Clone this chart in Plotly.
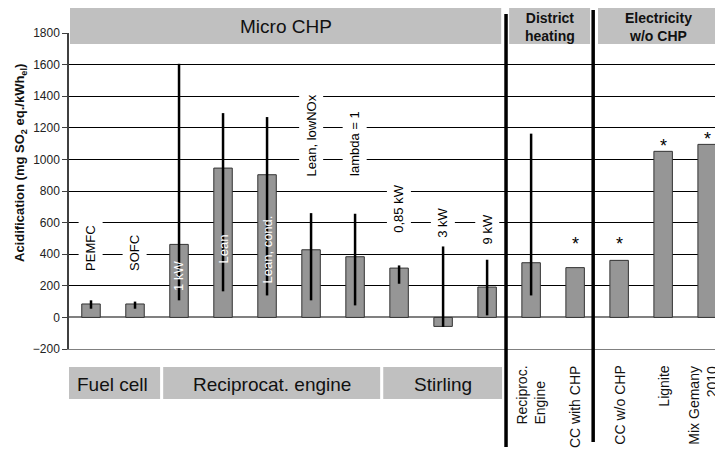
import plotly.graph_objects as go

# ---- data ----
categories = ["PEMFC", "SOFC", "1 kW", "Lean", "Lean, cond.", "Lean, lowNOx", "lambda = 1",
              "0,85 kW", "3 kW", "9 kW", "Reciproc. Engine", "CC with CHP",
              "CC w/o CHP", "Lignite", "Mix Gemany 2010"]
values = [85, 85, 462, 945, 903, 428, 384, 312, -57, 192, 346, 315, 361, 1051, 1095]
err_high = [108, 100, 1605, 1293, 1268, 660, 656, 329, 449, 365, 1163, None, None, None, None]
err_low = [55, 55, 108, 165, 139, 108, 76, 213, -60, 13, 139, None, None, None, None]
asterisk = [False, False, False, False, False, False, False, False, False, False, False,
            True, True, True, True]
y_ticks = [-200, 0, 200, 400, 600, 800, 1000, 1200, 1400, 1600, 1800]

top_groups = ["Micro CHP", "District<br>heating", "Electricity<br>w/o CHP"]
bottom_groups = ["Fuel cell", "Reciprocat. engine", "Stirling"]

FONT = "Arial, Liberation Sans, sans-serif"
x = list(range(len(categories)))

plus = [(h - v) if h is not None else None for h, v in zip(err_high, values)]
minus = [(v - l) if l is not None else None for l, v in zip(err_low, values)]

fig = go.Figure()
fig.add_trace(go.Bar(
    x=x, y=values, width=0.42,
    marker=dict(color="#969696", line=dict(color="#333333", width=1)),
    error_y=dict(type="data", symmetric=False, array=plus, arrayminus=minus,
                 color="black", thickness=2.5, width=0),
    showlegend=False, hoverinfo="skip",
))

OFF = 8  # page body margin
W, H = 723 - OFF, 454 - OFF
L, R, T = 69 - OFF, 0, 33 - OFF
B = H - (349 - OFF)
ph = H - T - B


def py(pix):
    """screenshot pixel y -> paper y"""
    return (H - B - (pix - OFF)) / ph


shapes = []
annotations = []

# top group bands
top_spans = [(-0.477, 9.32), (9.5, 11.34), (11.52, 14.5)]
for (a, b) in top_spans:
    shapes.append(dict(type="rect", xref="x", yref="paper", x0=a, x1=b, y0=py(44), y1=py(8),
                       fillcolor="#C0C0C0", line=dict(width=0), layer="above"))
annotations.append(dict(xref="x", yref="paper", x=(top_spans[0][0] + top_spans[0][1]) / 2, y=py(27),
                        yanchor="middle", text=top_groups[0], showarrow=False,
                        font=dict(family=FONT, size=19, color="#111")))
annotations.append(dict(xref="x", yref="paper", x=(top_spans[1][0] + top_spans[1][1]) / 2, y=py(27),
                        yanchor="middle", text="<b>" + top_groups[1] + "</b>", showarrow=False,
                        font=dict(family=FONT, size=14, color="#111")))
annotations.append(dict(xref="x", yref="paper", x=12.9, y=py(27), yanchor="middle",
                        text="<b>" + top_groups[2] + "</b>", showarrow=False,
                        font=dict(family=FONT, size=14, color="#111")))

# bottom group bands
bottom_spans = [(-0.61, 1.57), (1.64, 6.57), (6.64, 9.34)]
for (a, b), name in zip(bottom_spans, bottom_groups):
    shapes.append(dict(type="rect", xref="x", yref="paper", x0=a, x1=b, y0=py(399), y1=py(367),
                       fillcolor="#C0C0C0", line=dict(width=0), layer="above"))
    annotations.append(dict(xref="x", yref="paper", x=(a + b) / 2, y=py(384), yanchor="middle",
                            text=name, showarrow=False,
                            font=dict(family=FONT, size=19, color="#111")))

# separator lines
for xs, y0, y1 in [(9.43, 447, 14), (11.41, 442, 10)]:
    shapes.append(dict(type="line", xref="x", yref="paper", x0=xs, x1=xs, y0=py(y0), y1=py(y1),
                       line=dict(color="black", width=3.5), layer="above"))

# in-plot labels
label_specs = [
    (0, 288, "bottom", "black", True),
    (1, 288, "bottom", "black", True),
    (2, 263, "middle", "white", False),
    (3, 430, "middle", "white", False),
    (4, 430, "middle", "white", False),
    (5, 886, "bottom", "black", True),
    (6, 886, "bottom", "black", True),
    (7, 530, "bottom", "black", True),
    (8, 498, "bottom", "black", True),
    (9, 456, "bottom", "black", True),
]
for i, yv, anch, col, bg in label_specs:
    ann = dict(xref="x", yref="y", x=i, y=yv, yanchor=anch, text=categories[i],
               textangle=-90, showarrow=False, borderpad=4 if bg else 0,
               yshift=-4 if bg and anch == "bottom" else 0,
               font=dict(family=FONT, size=13, color=col))
    if bg:
        ann["bgcolor"] = "white"
    annotations.append(ann)

# bottom rotated labels
bottom_labels = {10: ("Reciproc.<br>Engine", "left", -1), 11: ("CC with CHP", "left", 0),
                 12: ("CC w/o CHP", "left", 0), 13: ("Lignite", "left", 0),
                 14: ("Mix Gemany<br>2010", "right", -5)}
for i, (txt, al, xs) in bottom_labels.items():
    annotations.append(dict(xref="x", yref="paper", x=i, y=py(364), yanchor="top", xshift=xs,
                            text=txt, align=al, textangle=-90, showarrow=False,
                            font=dict(family=FONT, size=14, color="#111")))

# asterisks
ast_y = {11: 487, 12: 487, 13: 1110, 14: 1152}
for i, flag in enumerate(asterisk):
    if flag:
        annotations.append(dict(xref="x", yref="y", x=i, y=ast_y[i], yanchor="middle", yshift=-4,
                                text="*", showarrow=False,
                                font=dict(family=FONT, size=18, color="black")))

# y-axis title
annotations.append(dict(xref="paper", yref="paper", x=-(L - (20 - OFF)) / (W - L - R), y=py(163),
                        xanchor="center", yanchor="middle", textangle=-90, showarrow=False,
                        text="<b>Acidification (mg SO<sub>2</sub> eq./kWh<sub>el</sub>)</b>",
                        font=dict(family=FONT, size=13, color="#111")))

fig.update_layout(
    width=W, height=H,
    margin=dict(l=L, r=R, t=T, b=B, pad=0, autoexpand=False),
    plot_bgcolor="white", paper_bgcolor="white",
    shapes=shapes, annotations=annotations,
    xaxis=dict(range=[-0.5, 14.36], showticklabels=False, ticks="", showgrid=False,
               zeroline=False, showline=True, linecolor="#808080", linewidth=1, mirror=False,
               automargin=False),
    yaxis=dict(range=[-200, 1800], tickvals=y_ticks, showgrid=True, gridcolor="black",
               gridwidth=1, zeroline=True, zerolinecolor="#808080", zerolinewidth=1.5,
               showline=True, linecolor="#404040", linewidth=1.5, ticks="outside",
               ticklen=5, tickcolor="#404040", automargin=False,
               tickfont=dict(family=FONT, size=12, color="#222")),
)

fig.write_html("out.html")
